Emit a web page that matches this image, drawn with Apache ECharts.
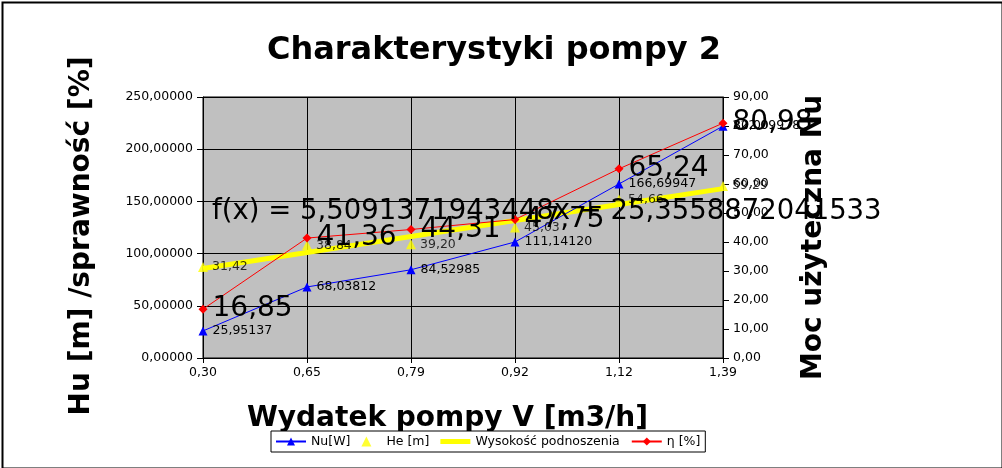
<!DOCTYPE html>
<html>
<head>
<meta charset="utf-8">
<script src="https://cdn.jsdelivr.net/npm/echarts@6/dist/echarts.min.js"></script>
<style>
html,body{margin:0;padding:0;background:#fff;}
#chart{width:1002px;height:468px;}
</style>
</head>
<body>
<div id="chart"></div>
<script>
var categories = ['0,30', '0,65', '0,79', '0,92', '1,12', '1,39'];
var nuValues = [25.95137, 68.03812, 84.52985, 111.14120, 166.69947, 222.09978];
var heValues = [31.42, 38.84, 39.20, 45.03, 54.66, 59.29];
var trendValues = [30.87, 36.37, 41.88, 47.39, 52.90, 58.41];
var etaValues = [16.85, 41.36, 44.31, 47.75, 65.24, 80.98];
var trendText = 'f(x) = 5,5091371943448x + 25,3558872041533';

var FONT = 'DejaVu Sans';
function fmt(v, d) { return v.toFixed(d).replace('.', ','); }

var chart = echarts.init(document.getElementById('chart'));
chart.setOption({
  animation: false,
  backgroundColor: '#ffffff',
  textStyle: { fontFamily: FONT },
  title: {
    text: 'Charakterystyki pompy 2',
    left: 489, top: 30, textAlign: 'center',
    textStyle: { fontFamily: FONT, fontSize: 32, fontWeight: 'bold', color: '#000' }
  },
  grid: { left: 203, right: 279, top: 97, bottom: 110, show: true,
          backgroundColor: '#c0c0c0', borderColor: '#000', borderWidth: 1 },
  legend: {
    left: 271, top: 431, padding: [4, 5, 4, 4], itemGap: 11,
    itemWidth: 30, itemHeight: 10, symbolKeepAspect: true,
    borderColor: '#000', borderWidth: 1, backgroundColor: '#fff',
    textStyle: { fontFamily: FONT, fontSize: 12.5, color: '#000' },
    data: [
      'Nu[W]',
      { name: 'He [m]', icon: 'path://M5,0 L10,10 L0,10 Z' },
      { name: 'Wysokość podnoszenia', icon: 'path://M0,0 L30,0 L30,5 L0,5 Z' },
      'η [%]'
    ]
  },
  xAxis: {
    type: 'category', data: categories, boundaryGap: false,
    name: 'Wydatek pompy V [m3/h]', nameLocation: 'middle', nameGap: 47,
    nameTextStyle: { fontFamily: FONT, fontSize: 28, fontWeight: 'bold', color: '#000',
                     padding: [0, 31, 0, 0] },
    axisLine: { show: true, lineStyle: { color: '#000', width: 1 } },
    axisTick: { show: true, length: 5, inside: false, lineStyle: { color: '#000' } },
    axisLabel: { fontFamily: FONT, fontSize: 12.5, color: '#000', margin: 8 },
    splitLine: { show: true, lineStyle: { color: '#000', width: 1 } }
  },
  yAxis: [{
    type: 'value', min: 0, max: 250, interval: 50, position: 'left',
    name: 'Hu [m] /sprawność [%]', nameLocation: 'middle', nameRotate: 90, nameGap: 107,
    nameTextStyle: { fontFamily: FONT, fontSize: 28, fontWeight: 'bold', color: '#000',
                     padding: [0, 17, 0, 0] },
    axisLine: { show: true, lineStyle: { color: '#000', width: 1 } },
    axisTick: { show: true, length: 6, lineStyle: { color: '#000' } },
    axisLabel: { fontFamily: FONT, fontSize: 12.5, color: '#000', margin: 10,
                 formatter: function (v) { return fmt(v, 5); } },
    splitLine: { show: true, lineStyle: { color: '#000', width: 1 } }
  }, {
    type: 'value', min: 0, max: 90, interval: 10, position: 'right',
    name: 'Moc użyteczna Nu', nameLocation: 'middle', nameRotate: 90, nameGap: 77,
    nameTextStyle: { fontFamily: FONT, fontSize: 28, fontWeight: 'bold', color: '#000',
                     padding: [0, 20, 0, 0] },
    axisLine: { show: true, lineStyle: { color: '#000', width: 1 } },
    axisTick: { show: true, length: 6, lineStyle: { color: '#000' } },
    axisLabel: { fontFamily: FONT, fontSize: 12.5, color: '#000', margin: 10,
                 formatter: function (v) { return fmt(v, 2); } },
    splitLine: { show: false }
  }],
  series: [{
    name: 'Nu[W]', type: 'line', yAxisIndex: 0, data: nuValues,
    symbol: 'triangle', symbolSize: 9, showAllSymbol: true,
    itemStyle: { color: '#0000ff' }, lineStyle: { color: '#0000ff', width: 1 },
    label: { show: true, position: 'right', distance: 5, fontFamily: FONT, fontSize: 12.5, color: '#000',
             formatter: function (p) { return fmt(p.value, 5); } },
    z: 3
  }, {
    name: 'He [m]', type: 'scatter', yAxisIndex: 1, data: heValues,
    symbol: 'triangle', symbolSize: 10,
    itemStyle: { color: '#ffff00' },
    label: { show: true, position: 'right', distance: 4, fontFamily: FONT, fontSize: 12.5, color: '#000',
             formatter: function (p) { return fmt(p.value, 2); } },
    z: 3
  }, {
    name: 'Wysokość podnoszenia', type: 'line', yAxisIndex: 1, data: trendValues,
    symbol: 'none', itemStyle: { color: '#ffff00' },
    lineStyle: { color: '#ffff00', width: 5 }, z: 2
  }, {
    name: 'η [%]', type: 'line', yAxisIndex: 1, data: etaValues,
    symbol: 'diamond', symbolSize: 9, showAllSymbol: true,
    itemStyle: { color: '#ff0000' }, lineStyle: { color: '#ff0000', width: 1 },
    label: { show: true, position: 'right', distance: 5, fontFamily: FONT, fontSize: 28, color: '#000',
             formatter: function (p) { return fmt(p.value, 2); } },
    z: 4
  }],
  graphic: [{
    type: 'text', left: 212, top: 198, z: 100,
    style: { text: trendText, fontFamily: FONT, fontSize: 27.5, fill: '#000' }
  }, {
    type: 'rect', left: 0, top: 0, z: 100, silent: true,
    shape: { x: 0, y: 0, width: 1000, height: 466 },
    style: { fill: 'none', stroke: '#000', lineWidth: 2 }
  }]
});
</script>
</body>
</html>
